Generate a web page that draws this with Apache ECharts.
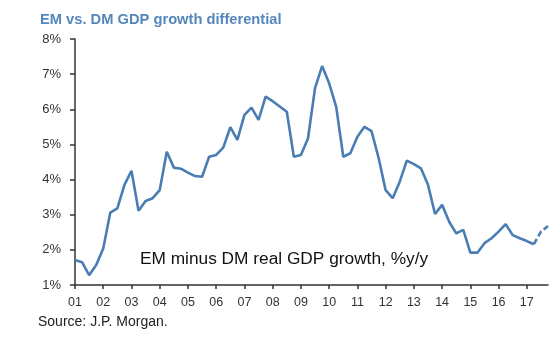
<!DOCTYPE html>
<html>
<head>
<meta charset="utf-8">
<script src="https://cdn.jsdelivr.net/npm/echarts@6/dist/echarts.min.js"></script>
<style>
html,body{margin:0;padding:0;background:#fff;}
#c{width:560px;height:337px;}
</style>
</head>
<body>
<div id="c"></div>
<script>
var quarters = [
 '2001Q1','2001Q2','2001Q3','2001Q4','2002Q1','2002Q2','2002Q3','2002Q4',
 '2003Q1','2003Q2','2003Q3','2003Q4','2004Q1','2004Q2','2004Q3','2004Q4',
 '2005Q1','2005Q2','2005Q3','2005Q4','2006Q1','2006Q2','2006Q3','2006Q4',
 '2007Q1','2007Q2','2007Q3','2007Q4','2008Q1','2008Q2','2008Q3','2008Q4',
 '2009Q1','2009Q2','2009Q3','2009Q4','2010Q1','2010Q2','2010Q3','2010Q4',
 '2011Q1','2011Q2','2011Q3','2011Q4','2012Q1','2012Q2','2012Q3','2012Q4',
 '2013Q1','2013Q2','2013Q3','2013Q4','2014Q1','2014Q2','2014Q3','2014Q4',
 '2015Q1','2015Q2','2015Q3','2015Q4','2016Q1','2016Q2','2016Q3','2016Q4',
 '2017Q1','2017Q2','2017Q3','2017Q4'
];
var actual = [
 1.71,1.65,1.28,1.57,2.04,3.06,3.18,3.85,
 4.25,3.11,3.39,3.47,3.70,4.79,4.34,4.31,
 4.20,4.10,4.08,4.65,4.70,4.91,5.49,5.13,
 5.84,6.05,5.70,6.36,6.23,6.08,5.93,4.65,
 4.70,5.17,6.60,7.23,6.74,6.07,4.65,4.75,
 5.22,5.50,5.38,4.62,3.70,3.47,3.94,4.54,
 4.44,4.32,3.85,3.02,3.28,2.80,2.47,2.57,
 1.92,1.92,2.19,2.33,2.52,2.73,2.42,2.33,
 2.25,2.16,'-','-'
];
var forecast = [
 '-','-','-','-','-','-','-','-',
 '-','-','-','-','-','-','-','-',
 '-','-','-','-','-','-','-','-',
 '-','-','-','-','-','-','-','-',
 '-','-','-','-','-','-','-','-',
 '-','-','-','-','-','-','-','-',
 '-','-','-','-','-','-','-','-',
 '-','-','-','-','-','-','-','-',
 '-',2.16,2.52,2.68
];
var yTicks = [1,2,3,4,5,6,7,8];
var titleText = 'EM vs. DM GDP growth differential';
var noteText = 'EM minus DM real GDP growth, %y/y';
var sourceText = 'Source: J.P. Morgan.';

var FONT = '"Liberation Sans", Arial, sans-serif';
var LINE = '#4a7db3';
var chart = echarts.init(document.getElementById('c'), null, {renderer:'canvas'});
chart.setOption({
  animation:false,
  title:{text:titleText, left:35, top:7,
    textStyle:{fontFamily:FONT, fontSize:14.7, fontWeight:'bold', color:'#5587bb'}},
  grid:{left:75, right:12, top:39, bottom:52, containLabel:false},
  xAxis:{type:'category', data:quarters, boundaryGap:false,
    axisLine:{lineStyle:{color:'#333', width:1.5}},
    axisTick:{show:true, interval:3, length:4, lineStyle:{color:'#333', width:1.5}},
    axisLabel:{interval:3, margin:11, fontFamily:FONT, fontSize:12.5, color:'#333',
      formatter:function(v){ return v.substr(2,2); }},
    splitLine:{show:false}},
  yAxis:{type:'value', min:yTicks[0], max:yTicks[yTicks.length-1], interval:1,
    axisLine:{show:true, lineStyle:{color:'#333', width:1.5}},
    axisTick:{show:true, inside:false, length:5, lineStyle:{color:'#333', width:1.5}},
    axisLabel:{margin:14, fontFamily:FONT, fontSize:13, color:'#333', formatter:'{value}%'},
    splitLine:{show:false}},
  series:[
    {type:'line', data:actual, symbol:'none', connectNulls:false,
      lineStyle:{color:LINE, width:2.6}, z:3},
    {type:'line', data:forecast, symbol:'none',
      lineStyle:{color:LINE, width:2.6, type:[6,3]}, z:3}
  ],
  graphic:[
    {type:'text', left:140, top:251, style:{text:noteText, font:'17.3px '+FONT, fill:'#111'}},
    {type:'text', left:38, top:315, style:{text:sourceText, font:'14px '+FONT, fill:'#222'}}
  ]
});
</script>
</body>
</html>
